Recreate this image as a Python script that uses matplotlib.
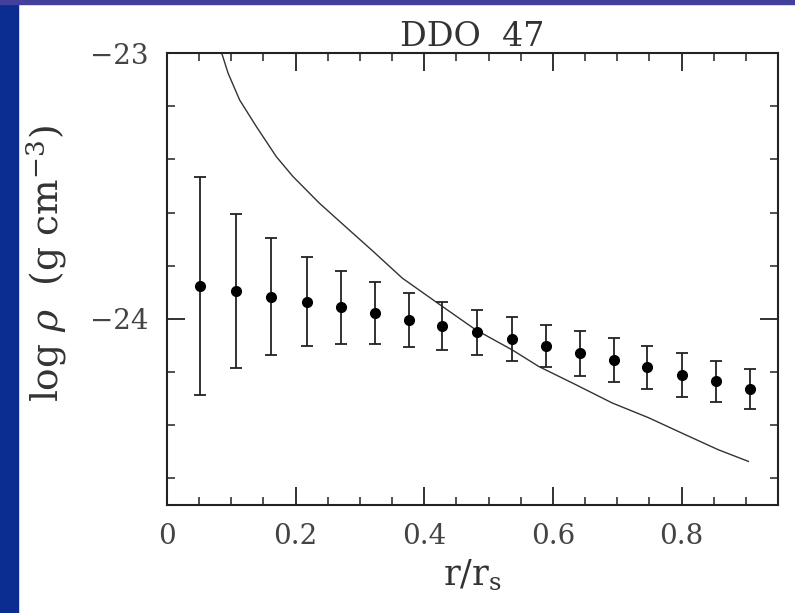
import matplotlib
matplotlib.use("Agg")
import matplotlib.pyplot as plt
from matplotlib.patches import Rectangle
from matplotlib.ticker import MultipleLocator, FixedLocator

# ---- data ----
r_data = [0.051, 0.107, 0.161, 0.217, 0.270, 0.324, 0.377, 0.428, 0.482,
          0.536, 0.589, 0.642, 0.695, 0.746, 0.800, 0.854, 0.907]
logrho = [-23.876, -23.894, -23.916, -23.935, -23.957, -23.979, -24.004, -24.026, -24.051,
          -24.076, -24.102, -24.130, -24.154, -24.182, -24.210, -24.235, -24.264]
err = [0.41, 0.29, 0.22, 0.166, 0.138, 0.117, 0.100, 0.090, 0.083,
       0.082, 0.080, 0.084, 0.082, 0.080, 0.083, 0.078, 0.074]

r_curve = [0.085, 0.095, 0.113, 0.139, 0.170, 0.196, 0.237, 0.289, 0.320, 0.366,
           0.428, 0.480, 0.537, 0.578, 0.636, 0.692, 0.749, 0.800, 0.857, 0.904]
logrho_curve = [-23.000, -23.076, -23.177, -23.277, -23.390, -23.465, -23.565, -23.678,
                -23.745, -23.847, -23.953, -24.041, -24.117, -24.179, -24.248, -24.316,
                -24.372, -24.429, -24.492, -24.536]

xticks = [0, 0.2, 0.4, 0.6, 0.8]
xticklabels = ["0", "0.2", "0.4", "0.6", "0.8"]
yticks = [-24, -23]
yticklabels = ["\u221224", "\u221223"]

title = "DDO  47"
xlabel = r"r/r$_\mathregular{s}$"
ylabel = r"log $\rho$  (g cm$^{\mathregular{-3}}$)"

plt.rcParams["font.family"] = ["DejaVu Serif"]
plt.rcParams["mathtext.fontset"] = "dejavuserif"

fig = plt.figure(figsize=(7.95, 6.13), dpi=100, facecolor="white")
ax = fig.add_axes([167/795, 1-505/613, (778-167)/795, (505-53)/613])

ax.plot(r_curve, logrho_curve, color="#333333", lw=1.0)
ax.errorbar(r_data, logrho, yerr=err, fmt="o", color="black", ms=7,
            ecolor="#222222", elinewidth=1.3, capsize=4, capthick=1.3)

ax.set_xlim(0, 0.95)
ax.set_ylim(-24.7, -23)
ax.xaxis.set_major_locator(FixedLocator(xticks))
ax.set_xticklabels(xticklabels)
ax.xaxis.set_minor_locator(MultipleLocator(0.05))
ax.yaxis.set_major_locator(FixedLocator(yticks))
ax.set_yticklabels(yticklabels)
ax.yaxis.set_minor_locator(MultipleLocator(0.2))

ax.tick_params(which="both", direction="in", top=True, right=True, color="#222222")
ax.tick_params(which="major", length=13, width=1.3, labelsize=20, pad=13)
ax.tick_params(which="minor", length=6, width=1.1)
for s in ax.spines.values():
    s.set_linewidth(1.5)
    s.set_color("#222222")

ax.set_title(title, fontsize=24, pad=4, color="#333333")
ax.set_xlabel(xlabel, fontsize=25, labelpad=6, color="#333333")
ax.set_ylabel(ylabel, fontsize=27, color="#333333")
ax.yaxis.set_label_coords(-0.160, 0.535)
for lbl in ax.get_xticklabels() + ax.get_yticklabels():
    lbl.set_color("#444444")

# blue slide frame
fig.add_artist(Rectangle((0, 0), 18/795, 1, transform=fig.transFigure,
                         color="#0b2d92", zorder=-1))
fig.add_artist(Rectangle((0, 1-4/613), 1, 4/613, transform=fig.transFigure,
                         color="#43409c", zorder=-1))

fig.savefig("out.png", dpi=100, facecolor="white")
